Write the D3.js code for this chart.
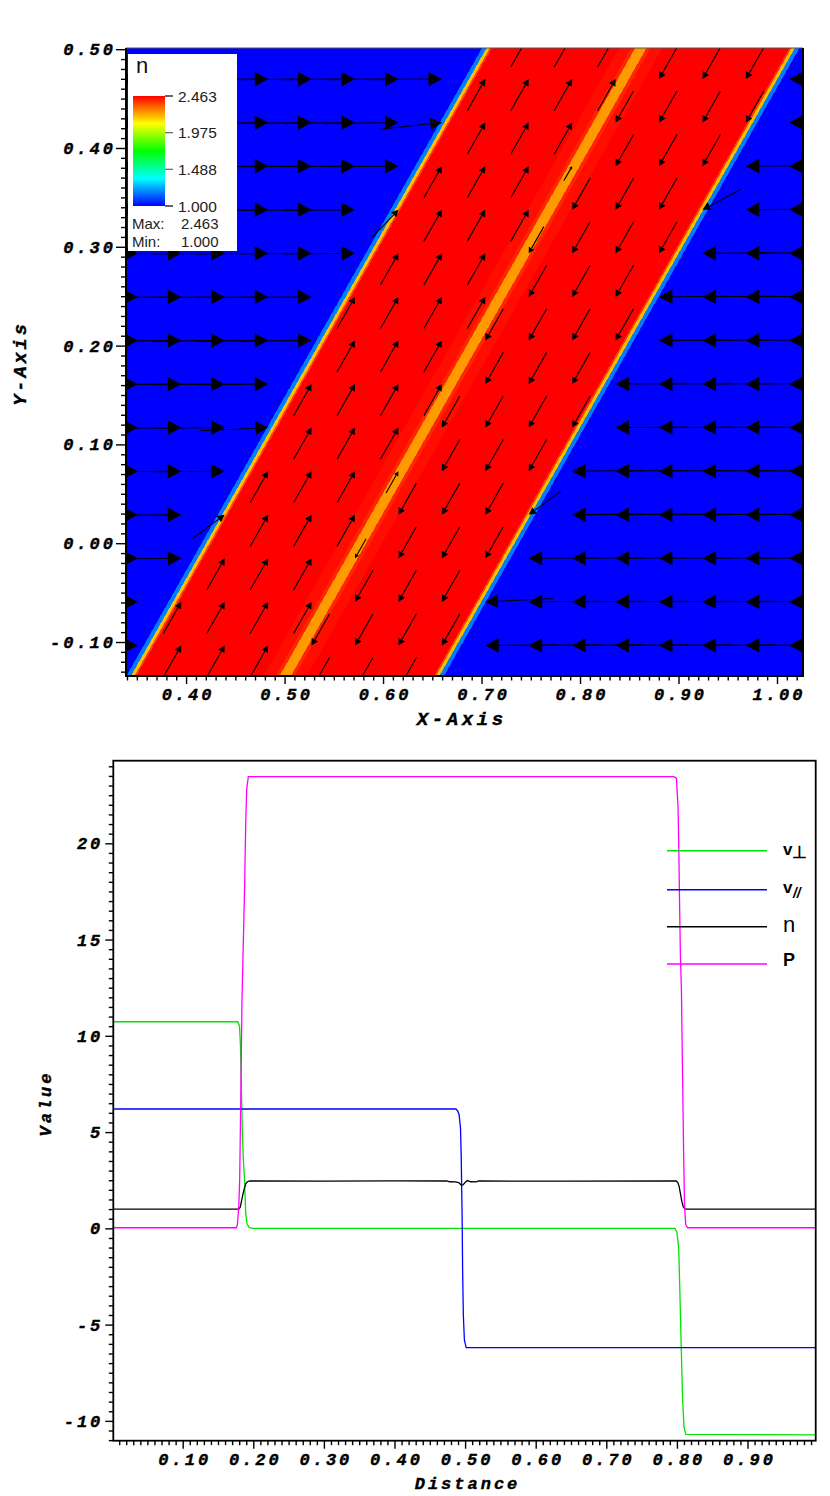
<!DOCTYPE html>
<html>
<head>
<meta charset="utf-8">
<script src="https://cdn.jsdelivr.net/npm/d3@7"></script>
<style>
  body { margin: 0; background: #fff; }
  svg { display: block; }
</style>
</head>
<body>
<svg id="chart" width="830" height="1496"></svg>
<script>
'use strict'

// ---------- top panel: pseudocolour of n + velocity glyphs ----------
// the band is tilted, s = cos(a)*x - sin(a)*y is the coordinate across it
const bandAngle = 29.6
// n across the band, step profile: thresholds in s and the level between them
const nEdgesS = [0.3618, 0.3658, 0.3688, 0.3705, 0.483, 0.4935, 0.497, 0.507, 0.5105, 0.521, 0.6333, 0.635, 0.638, 0.642]
const nLevels = [1.0, 1.18, 2.19, 2.37, 2.463, 2.445, 2.41, 2.24, 2.41, 2.445, 2.463, 2.37, 2.19, 1.18, 1.0]
// velocity across the band, normal and parallel parts
const vPerpS = [0.3618, 0.3697, 0.634, 0.642]
const vPerpVal = [10.7, 0, 0, -10.7]
const vParS = [0.498, 0.506]
const vParVal = [6.2, -6.2]

const nMin = 1.000, nMax = 2.463
const barTicks = [2.463, 1.975, 1.488, 1.000]
const topXTicks = [0.40, 0.50, 0.60, 0.70, 0.80, 0.90, 1.00]
const topYTicks = [-0.10, 0.00, 0.10, 0.20, 0.30, 0.40, 0.50]

// ---------- bottom panel: lineout (distance, value) ----------
const vPerpLine = [[0, 10.73], [0.178, 10.73], [0.1805, 10.5], [0.1818, 9.5], [0.183, 7.5], [0.1845, 5], [0.186, 3.5],
  [0.1875, 2.6], [0.1892, 0.8], [0.191, 0.25], [0.194, 0.05], [0.199, 0], [0.797, 0], [0.800, -0.2], [0.8025, -1],
  [0.804, -3], [0.806, -6], [0.808, -8.8], [0.810, -10.3], [0.8125, -10.7], [0.9966, -10.73]]
const vParLine = [[0, 6.2], [0.487, 6.2], [0.4895, 6.1], [0.4915, 5.9], [0.4935, 5.2], [0.4945, 3.7], [0.4958, 0.6],
  [0.4965, -2.2], [0.4975, -4.5], [0.499, -5.8], [0.5015, -6.2], [0.9966, -6.2]]
const nLine = [[0, 1.0], [0.1795, 1.0], [0.1815, 1.1], [0.1835, 1.45], [0.1855, 1.8], [0.1875, 2.1], [0.1895, 2.33],
  [0.1915, 2.42], [0.195, 2.46], [0.30, 2.45], [0.40, 2.47], [0.474, 2.46], [0.478, 2.42], [0.486, 2.41], [0.491, 2.38],
  [0.4945, 2.25], [0.497, 2.26], [0.500, 2.38], [0.503, 2.48], [0.508, 2.42], [0.516, 2.41], [0.519, 2.46], [0.65, 2.45],
  [0.799, 2.46], [0.801, 2.4], [0.803, 2.2], [0.805, 1.8], [0.807, 1.4], [0.809, 1.12], [0.811, 1.02], [0.814, 1.0], [0.9966, 1.0]]
const pLine = [[0, 0.03], [0.176, 0.03], [0.1775, 0.2], [0.1795, 1.2], [0.1807, 2.5], [0.182, 6], [0.184, 11.9],
  [0.1859, 14.9], [0.1878, 17.9], [0.1892, 20.9], [0.1906, 22.8], [0.193, 23.46], [0.7955, 23.46], [0.7993, 23.38],
  [0.8016, 21.9], [0.8025, 20.2], [0.8035, 17.6], [0.8049, 14.3], [0.8064, 12.4], [0.808, 8], [0.8095, 4], [0.8108, 1.2],
  [0.8125, 0.2], [0.815, 0.03], [0.9966, 0.03]]
const botXTicks = [0.10, 0.20, 0.30, 0.40, 0.50, 0.60, 0.70, 0.80, 0.90]
const botYTicks = [-10, -5, 0, 5, 10, 15, 20]
const seriesNames = ['v⊥', 'v//', 'n', 'P']

const svg = d3.select('#chart')
const monoFont = "'Liberation Mono', 'Courier New', monospace"
const sansFont = "'Liberation Sans', Arial, sans-serif"
const LS = 3 // letter spacing of the axis text

// ================= top panel =================
const topBox = {left: 126, right: 803, top: 48, bottom: 676}
const xTop = d3.scaleLinear().domain([0.339, 1.0264]).range([topBox.left, topBox.right])
const yTop = d3.scaleLinear().domain([-0.1344, 0.5012]).range([topBox.bottom, topBox.top])

const ca = Math.cos(bandAngle * Math.PI / 180), sa = Math.sin(bandAngle * Math.PI / 180)
const sOf = (x, y) => ca * x - sa * y
const xOnS = (s, y) => (s + sa * y) / ca

const hot = d3.scaleLinear()
  .domain([0, 0.25, 0.5, 0.75, 1].map(t => nMin + t * (nMax - nMin)))
  .range(['#0000ff', '#00ffff', '#00ff00', '#ffff00', '#ff0000'])
const vPerpAt = d3.scaleLinear().domain(vPerpS).range(vPerpVal).clamp(true)
const vParAt = d3.scaleLinear().domain(vParS).range(vParVal).clamp(true)

const defs = svg.append('defs')
const fw = topBox.right - topBox.left, fh = topBox.bottom - topBox.top
defs.append('clipPath').attr('id', 'clipTop').append('rect')
  .attr('x', topBox.left).attr('y', topBox.top).attr('width', fw).attr('height', fh)

// field: one strip per level of the step profile
const sBounds = [-1, ...nEdgesS, 2]
const yLo = yTop.domain()[0] - 0.05, yHi = yTop.domain()[1] + 0.05
const strips = nLevels.map((v, i) => ({a: sBounds[i], b: sBounds[i + 1], n: v}))
svg.append('g').attr('clip-path', 'url(#clipTop)')
  .selectAll('path').data(strips).join('path')
  .attr('d', d => {
    const pts = [[xOnS(d.a, yLo), yLo], [xOnS(d.a, yHi), yHi], [xOnS(d.b, yHi), yHi], [xOnS(d.b, yLo), yLo]]
    return 'M' + pts.map(p => `${xTop(p[0])},${yTop(p[1])}`).join('L') + 'Z'
  })
  .attr('fill', d => hot(d.n))
  .attr('stroke', d => hot(d.n)).attr('stroke-width', 0.6)
  .attr('shape-rendering', 'crispEdges')

// velocity glyphs: the head sits on the sample point, length follows the speed
const gridX0 = 0.4833, gridY0 = 0.4698, gridStep = 0.0441
const pxPerSpeed = 5.87
const glyphs = []
for (let jr = -1; jr <= 14; jr++) {
  for (let kc = -4; kc <= 13; kc++) {
    const gx = gridX0 + kc * gridStep, gy = gridY0 - jr * gridStep
    const s = sOf(gx, gy)
    const vp = vPerpAt(s), vl = vParAt(s)
    const vx = vp * ca + vl * sa, vy = -vp * sa + vl * ca
    glyphs.push({tx: xTop(gx), ty: yTop(gy), dx: vx * pxPerSpeed, dy: -vy * pxPerSpeed})
  }
}
const gArrows = svg.append('g').attr('clip-path', 'url(#clipTop)')
glyphs.forEach(g => {
  const L = Math.hypot(g.dx, g.dy)
  if (L < 0.5) return
  const ux = g.dx / L, uy = g.dy / L
  const bx = g.tx - 0.185 * g.dx, by = g.ty - 0.185 * g.dy
  const hw = 0.1 * L
  gArrows.append('line')
    .attr('x1', g.tx - g.dx).attr('y1', g.ty - g.dy)
    .attr('x2', bx).attr('y2', by)
    .attr('stroke', '#000').attr('stroke-width', 1.1)
  gArrows.append('path')
    .attr('d', `M${g.tx},${g.ty}L${bx - uy * hw},${by + ux * hw}L${bx + uy * hw},${by - ux * hw}Z`)
    .attr('fill', '#000')
})

// colour legend
const leg = svg.append('g')
leg.append('rect').attr('x', 128).attr('y', 54).attr('width', 109).attr('height', 197).attr('fill', '#fff')
leg.append('text').attr('x', 136).attr('y', 73).attr('font-family', sansFont).attr('font-size', 22)
  .attr('fill', '#111').text('n')
const barScale = d3.scaleLinear().domain([nMin, nMax]).range([206, 96])
const grad = defs.append('linearGradient').attr('id', 'hotGrad')
  .attr('x1', 0).attr('y1', 1).attr('x2', 0).attr('y2', 0)
hot.domain().forEach(v => {
  grad.append('stop').attr('offset', (v - nMin) / (nMax - nMin)).attr('stop-color', hot(v))
})
leg.append('rect').attr('x', 133).attr('y', barScale(nMax)).attr('width', 32)
  .attr('height', barScale(nMin) - barScale(nMax)).attr('fill', 'url(#hotGrad)')
barTicks.forEach((v, i) => {
  const yy = barScale(v)
  leg.append('line').attr('x1', 165).attr('x2', 173).attr('y1', yy).attr('y2', yy)
    .attr('stroke', (i === 0 || i === barTicks.length - 1) ? '#000' : '#666').attr('stroke-width', 1.2)
  leg.append('text').attr('x', 178).attr('y', yy + 5.5).attr('font-family', sansFont).attr('font-size', 15.5)
    .attr('fill', '#222').text(v.toFixed(3))
})
leg.append('text').attr('x', 132).attr('y', 229).attr('font-family', sansFont).attr('font-size', 15)
  .attr('fill', '#222').text('Max:')
leg.append('text').attr('x', 181).attr('y', 229).attr('font-family', sansFont).attr('font-size', 15)
  .attr('fill', '#222').text(d3.max(nLevels).toFixed(3))
leg.append('text').attr('x', 132).attr('y', 246.5).attr('font-family', sansFont).attr('font-size', 15)
  .attr('fill', '#222').text('Min:')
leg.append('text').attr('x', 181).attr('y', 246.5).attr('font-family', sansFont).attr('font-size', 15)
  .attr('fill', '#222').text(d3.min(nLevels).toFixed(3))

// frame and axes
function styleAxis(g) {
  g.attr('font-family', monoFont).attr('font-size', 17)
  g.select('.domain').remove()
  g.selectAll('.tick line').attr('stroke', '#000').attr('stroke-width', 1.4)
  g.selectAll('.tick text').attr('fill', '#000').attr('font-weight', 'bold')
    .attr('font-style', 'italic').attr('letter-spacing', LS)
    .attr('stroke', '#000').attr('stroke-width', 0.4)
}
function minorTicks(from, to, step, majors) {
  const out = []
  for (let i = Math.round(from / step); i <= Math.round(to / step); i++) {
    const v = +(i * step).toFixed(4)
    if (!majors.some(m => Math.abs(m - v) < 1e-6)) out.push(v)
  }
  return out
}

svg.append('line').attr('x1', topBox.left).attr('x2', topBox.right).attr('y1', topBox.top).attr('y2', topBox.top)
  .attr('stroke', '#555').attr('stroke-width', 1)
svg.append('path').attr('d', `M${topBox.left},${topBox.top}V${topBox.bottom}H${topBox.right}V${topBox.top}`)
  .attr('fill', 'none').attr('stroke', '#000').attr('stroke-width', 2)

svg.append('g').attr('transform', `translate(${topBox.left},0)`)
  .call(d3.axisLeft(yTop).tickValues(topYTicks).tickSize(10).tickPadding(0).tickFormat(d => d.toFixed(2)))
  .call(styleAxis)
svg.append('g').attr('transform', `translate(${topBox.left},0)`)
  .call(d3.axisLeft(yTop).tickValues(minorTicks(-0.13, 0.50, 0.01, topYTicks)).tickSize(5).tickFormat(''))
  .call(styleAxis)
svg.append('g').attr('transform', `translate(0,${topBox.bottom})`)
  .call(d3.axisBottom(xTop).tickValues(topXTicks).tickSize(8).tickPadding(4).tickFormat(d => d.toFixed(2)))
  .call(styleAxis)
  .selectAll('.tick text').attr('dx', LS / 2)
svg.append('g').attr('transform', `translate(0,${topBox.bottom})`)
  .call(d3.axisBottom(xTop).tickValues(minorTicks(0.34, 1.02, 0.01, topXTicks)).tickSize(4.5).tickFormat(''))
  .call(styleAxis)

function axisTitle(text, x, y, rotate, size, ls) {
  svg.append('text')
    .attr('transform', `translate(${x},${y})` + (rotate ? ' rotate(-90)' : ''))
    .attr('text-anchor', 'middle').attr('dx', ls / 2)
    .attr('font-family', monoFont).attr('font-size', size).attr('font-weight', 'bold').attr('font-style', 'italic')
    .attr('letter-spacing', ls).attr('fill', '#000').attr('stroke', '#000').attr('stroke-width', 0.4).text(text)
}
axisTitle('X-Axis', 460, 725, false, 19, 3.6)
axisTitle('Y-Axis', 26, 365, true, 18.5, 3)

// ================= bottom panel =================
const botBox = {left: 113.3, right: 815.7, top: 760.7, bottom: 1440.7}
const xBot = d3.scaleLinear().domain([0.0017, 0.9966]).range([botBox.left, botBox.right])
const yBot = d3.scaleLinear().domain([-11.03, 24.29]).range([botBox.bottom, botBox.top])

defs.append('clipPath').attr('id', 'clipBot').append('rect')
  .attr('x', botBox.left).attr('y', botBox.top)
  .attr('width', botBox.right - botBox.left).attr('height', botBox.bottom - botBox.top)

const series = [
  {name: seriesNames[0], color: '#00e400', pts: vPerpLine},
  {name: seriesNames[1], color: '#0000ff', pts: vParLine},
  {name: seriesNames[2], color: '#000000', pts: nLine},
  {name: seriesNames[3], color: '#ff00ff', pts: pLine}
]
const line = d3.line().x(d => xBot(d[0])).y(d => yBot(d[1]))
const gLines = svg.append('g').attr('clip-path', 'url(#clipBot)')
series.forEach(sr => {
  gLines.append('path').datum(sr.pts).attr('d', line)
    .attr('fill', 'none').attr('stroke', sr.color).attr('stroke-width', 1.3)
})

// legend
const legRows = [850.7, 889.7, 926.7, 964]
const gLeg = svg.append('g')
series.forEach((sr, i) => {
  gLeg.append('line').attr('x1', 667).attr('x2', 767).attr('y1', legRows[i]).attr('y2', legRows[i])
    .attr('stroke', sr.color).attr('stroke-width', 1.6)
})
function legText() {
  return gLeg.append('text').attr('x', 783).attr('font-family', sansFont).attr('fill', '#000')
}
{
  const t0 = legText().attr('y', 855)
  t0.append('tspan').attr('font-weight', 'bold').attr('font-size', 17).text(seriesNames[0].charAt(0))
  t0.append('tspan').attr('font-weight', 'bold').attr('font-size', 17).attr('dy', 3).attr('dx', -0.5)
    .text(seriesNames[0].slice(1))
  const t1 = legText().attr('y', 893)
  t1.append('tspan').attr('font-weight', 'bold').attr('font-size', 17).text(seriesNames[1].charAt(0))
  t1.append('tspan').attr('font-weight', 'bold').attr('font-style', 'italic').attr('font-size', 14)
    .attr('dy', 5).attr('dx', 0.5).text(seriesNames[1].slice(1))
  legText().attr('y', 932).attr('font-size', 22).text(seriesNames[2])
  legText().attr('y', 966).attr('font-size', 18).attr('font-weight', 'bold').text(seriesNames[3])
}

svg.append('rect').attr('x', botBox.left).attr('y', botBox.top)
  .attr('width', botBox.right - botBox.left).attr('height', botBox.bottom - botBox.top)
  .attr('fill', 'none').attr('stroke', '#000').attr('stroke-width', 1.8)

svg.append('g').attr('transform', `translate(${botBox.left},0)`)
  .call(d3.axisLeft(yBot).tickValues(botYTicks).tickSize(8).tickPadding(2).tickFormat(d => String(d)))
  .call(styleAxis)
svg.append('g').attr('transform', `translate(${botBox.left},0)`)
  .call(d3.axisLeft(yBot).tickValues(minorTicks(-11, 24, 0.5, botYTicks)).tickSize(4.5).tickFormat(''))
  .call(styleAxis)
svg.append('g').attr('transform', `translate(0,${botBox.bottom})`)
  .call(d3.axisBottom(xBot).tickValues(botXTicks).tickSize(8).tickPadding(4.3).tickFormat(d => d.toFixed(2)))
  .call(styleAxis)
  .selectAll('.tick text').attr('dx', LS / 2)
svg.append('g').attr('transform', `translate(0,${botBox.bottom})`)
  .call(d3.axisBottom(xBot).tickValues(minorTicks(0.01, 0.99, 0.01, botXTicks)).tickSize(4.5).tickFormat(''))
  .call(styleAxis)

axisTitle('Distance', 466, 1489, false, 17, 3)
axisTitle('Value', 51, 1105, true, 17, 3)
</script>
</body>
</html>
